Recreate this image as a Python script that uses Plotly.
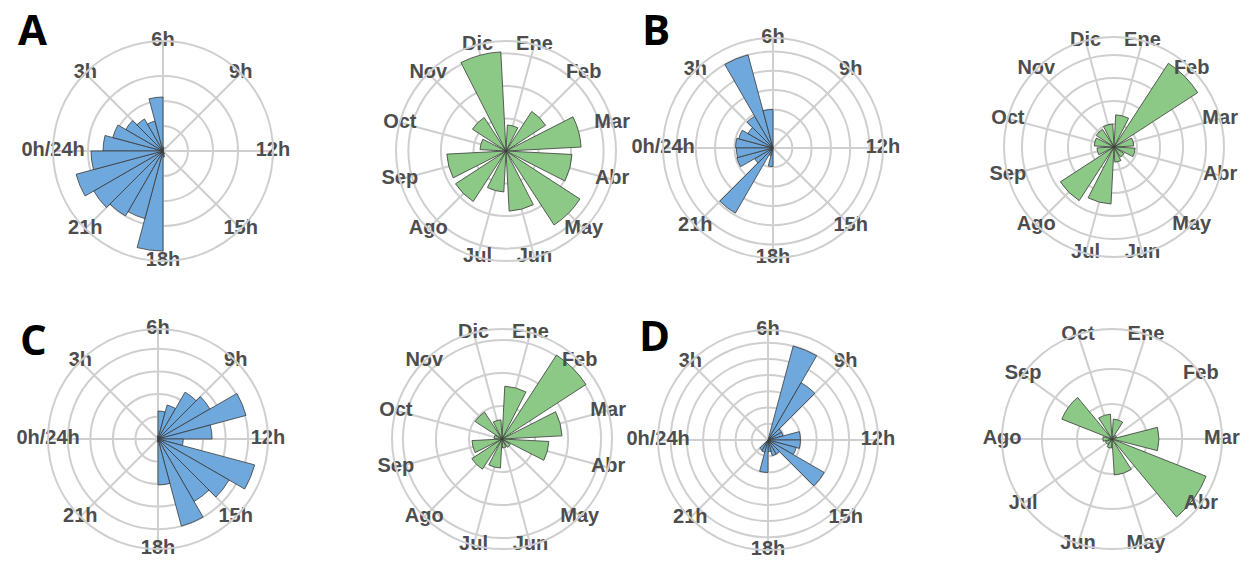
import plotly.graph_objects as go

W, H = 1251, 563

# ---- category labels -------------------------------------------------------
hour_labels = ["0h/24h", "3h", "6h", "9h", "12h", "15h", "18h", "21h"]
months_12 = ["Ene", "Feb", "Mar", "Abr", "May", "Jun",
             "Jul", "Ago", "Sep", "Oct", "Nov", "Dic"]
months_10 = ["Ene", "Feb", "Mar", "Abr", "May", "Jun",
             "Jul", "Ago", "Sep", "Oct"]

# ---- hourly distributions (one value per hour, 0h .. 23h) --------------------
a_hours = [12.0, 10.4, 8.6, 7.4, 6.2, 10.8, 0.8, 0, 0, 0, 0, 0,
           0, 0, 0, 0, 0.6, 1.2, 20.0, 14.0, 15.0, 16.0, 18.0, 14.4]
b_hours = [9.7, 9.2, 7.5, 9.5, 25.0, 10.0, 0, 0, 0, 0, 0, 0,
           0, 0, 0, 0, 0, 0, 4.8, 2.0, 19.5, 5.5, 9.7, 9.5]
c_hours = [0, 0, 0, 0, 0, 0.7, 6.2, 7.8, 12.0, 13.3, 20.2, 12.0,
           5.6, 22.2, 18.2, 16.0, 20.0, 10.2, 0.7, 0, 0, 0, 0, 0]
d_hours = [0, 0, 0, 0, 0, 0, 0, 30.0, 20.4, 4.8, 4.8, 10.0,
           10.0, 9.0, 20.0, 5.0, 5.0, 3.6, 10.0, 3.9, 3.6, 0, 0, 0]

# ---- monthly distributions ------------------------------------------------------
a_months = [8.0, 14.5, 23.1, 20.3, 27.1, 18.5, 12.6, 18.5, 18.2, 8.0, 12.3, 30.5]
b_months = [7.0, 21.7, 4.3, 4.6, 2.6, 3.3, 12.4, 13.9, 3.7, 4.3, 4.6, 5.0]
c_months = [16.0, 30.3, 18.2, 14.2, 3.0, 2.7, 8.8, 10.9, 9.1, 2.4, 9.7, 5.8]
d_months = [5.7, 1.4, 13.4, 28.9, 10.3, 2.6, 2.0, 2.6, 15.4, 7.1]

BLUE = "#6fa8dc"
GREEN = "#8cc886"
GRID = "#cfcfcf"
EDGE = "#3a3a3a"
LABELFONT = dict(family="Liberation Sans, Arial, sans-serif", size=20,
                 color="#4d4d4d", weight="bold")
RADIUS = 110  # polar radius in px

panels = [
    # (values, labels, kind, colour, centre x, centre y,
    #  ring step, number of rings, radial max at the outer circle)
    (a_hours, hour_labels, "hour", BLUE, 163, 151, 5, 3, 22.0),
    (a_months, months_12, "month", GREEN, 506, 151, 10, 3, 33.8),
    (b_hours, hour_labels, "hour", BLUE, 773, 148, 5, 5, 28.5),
    (b_months, months_12, "month", GREEN, 1114, 147, 5, 4, 23.9),
    (c_hours, hour_labels, "hour", BLUE, 158, 439, 5, 4, 24.4),
    (c_months, months_12, "month", GREEN, 502, 439, 10, 3, 33.3),
    (d_hours, hour_labels, "hour", BLUE, 768, 440, 5, 6, 33.9),
    (d_months, months_10, "month", GREEN, 1112, 439, 10, 2, 31.4),
]

fig = go.Figure()
layout = {}

for i, (vals, labels, kind, colour, cx, cy, step, nrings, rmax) in enumerate(panels):
    key = "polar" if i == 0 else f"polar{i + 1}"
    if kind == "hour":
        dtheta = 360 / 24
        theta0 = dtheta / 2
        width = dtheta
        rotation = 180
        tickvals = [k * 45 for k in range(len(labels))]
    else:
        dtheta = 360 / len(labels)
        theta0 = dtheta / 2
        width = dtheta * 0.8
        rotation = 90
        tickvals = [theta0 + k * dtheta for k in range(len(labels))]

    fig.add_trace(go.Barpolar(
        r=vals, theta0=theta0, dtheta=dtheta, width=width,
        marker=dict(color=colour, line=dict(color=EDGE, width=0.8)),
        subplot=key, showlegend=False, hoverinfo="skip",
    ))

    # angular labels sit centred on the outer ring
    fig.add_trace(go.Scatterpolar(
        r=[rmax * 0.999] * len(labels), theta=tickvals, text=labels,
        mode="text", textposition="middle center", textfont=LABELFONT,
        cliponaxis=False, subplot=key, showlegend=False, hoverinfo="skip",
    ))

    layout[key] = dict(
        domain=dict(x=[(cx - RADIUS) / W, (cx + RADIUS) / W],
                    y=[(H - cy - RADIUS) / H, (H - cy + RADIUS) / H]),
        bgcolor="rgba(0,0,0,0)",
        radialaxis=dict(range=[0, rmax], tickmode="array",
                        tickvals=[step * (k + 1) for k in range(nrings)],
                        showticklabels=False, ticks="", showline=False,
                        gridcolor=GRID, gridwidth=2),
        angularaxis=dict(rotation=rotation, direction="clockwise",
                         tickmode="array", tickvals=tickvals,
                         showticklabels=False, ticks="", showline=True,
                         linecolor=GRID, linewidth=2, gridcolor=GRID,
                         gridwidth=2),
    )

letters = [("A", 32, 29), ("B", 656, 28), ("C", 33, 338), ("D", 654, 334)]
annotations = [
    dict(text=t, x=x / W, y=1 - y / H, xref="paper", yref="paper",
         xanchor="center", yanchor="middle", showarrow=False,
         font=dict(family="Open Sans, sans-serif", size=42, color="#000000",
                   weight="bold"))
    for t, x, y in letters
]

fig.update_layout(
    template="none",
    width=W, height=H,
    margin=dict(l=0, r=0, t=0, b=0),
    paper_bgcolor="#ffffff",
    plot_bgcolor="#ffffff",
    showlegend=False,
    annotations=annotations,
    **layout,
)

fig.write_html("out.html")
